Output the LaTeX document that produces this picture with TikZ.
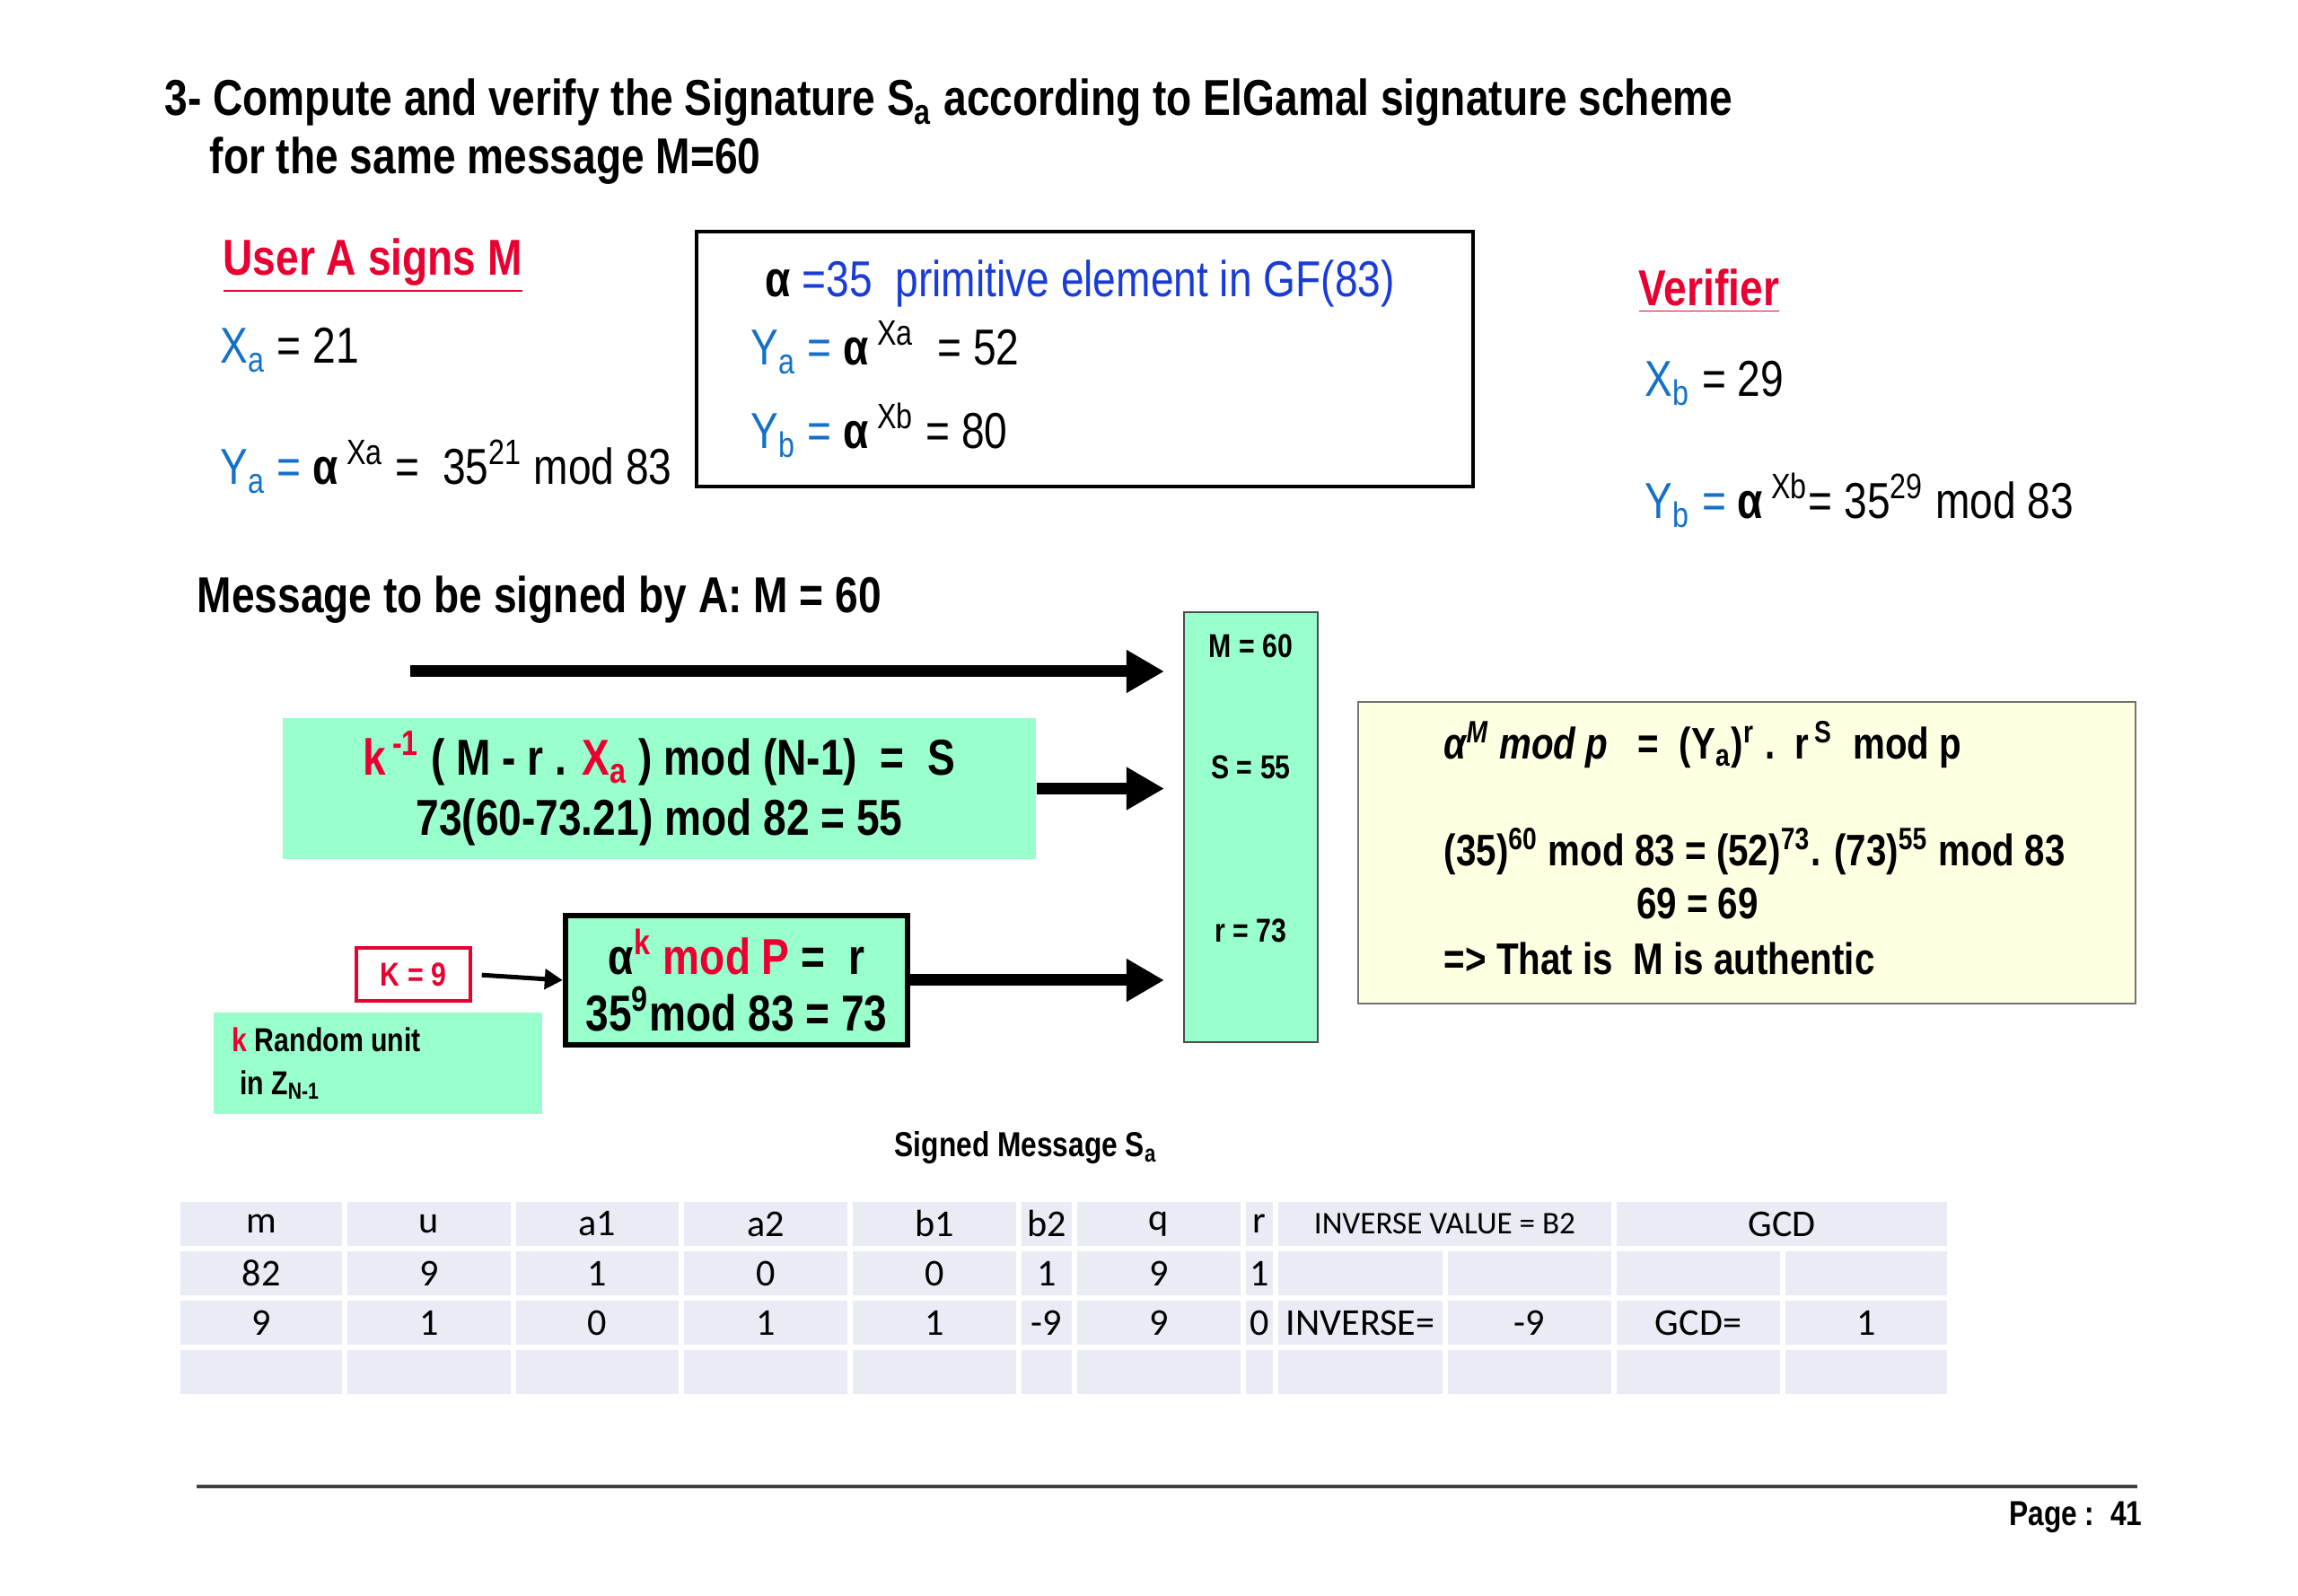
\documentclass[tikz,border=0pt]{standalone}
\usepackage{fontspec}
\setmainfont{Liberation Sans}[FakeStretch=0.82]
\newfontfamily\tablefont{Carlito}
\usetikzlibrary{positioning,arrows.meta}
\definecolor{mintfill}{RGB}{153,255,204}
\definecolor{paleyellow}{RGB}{255,255,226}
\definecolor{cellgray}{RGB}{233,235,245}
\definecolor{keyred}{RGB}{232,0,48}
\definecolor{varblue}{RGB}{20,112,200}
\definecolor{constblue}{RGB}{25,60,215}

\begin{document}
\begin{tikzpicture}[
    txt/.style={anchor=base west,inner sep=0pt},
    bigtext/.style={font=\fontsize{16}{19}\selectfont},
    bigbold/.style={font=\bfseries\fontsize{16}{19}\selectfont},
    heading/.style={font=\bfseries\fontsize{16}{19}\selectfont,text=keyred},
    smallbold/.style={font=\bfseries\fontsize{10.5}{12.5}\selectfont},
    mintbox/.style={fill=mintfill,inner sep=0pt},
    bigarrow/.style={line width=0.13cm,-{Triangle[length=0.42cm,width=0.45cm]},shorten >=0.21cm},
    cell/.style={fill=cellgray,draw=white,line width=1.5pt,inner sep=0pt,
                 minimum height=0.55cm,font=\tablefont\fontsize{12}{14}\selectfont}]
  \useasboundingbox (0,0) rectangle (25.6,17.78);

  % title
  \node[txt,bigbold] (title1) at (1.83,16.49)
    {3- Compute and verify the Signature S\textsubscript{a} according to ElGamal signature scheme};
  \node[txt,bigbold] (title2) at (2.33,15.84) {for the same message M=60};

  % user A
  \node[txt,heading] (usera) at (2.48,14.71) {\underline{User A signs M}};
  \node[txt,bigtext] (xa) at (2.45,13.73) {\textcolor{varblue}{X\textsubscript{a}} = 21};
  \node[txt,bigtext] (ya) at (2.45,12.38)
    {\textcolor{varblue}{Y\textsubscript{a} =} \textbf{α}\,\textsuperscript{Xa} =\ \ 35\textsuperscript{21} mod 83};

  % public values
  \node[draw,line width=1.3pt,minimum width=8.65cm,minimum height=2.84cm] (pubbox) at (12.085,13.78) {};
  \node[txt,bigtext] (alpha) at (8.52,14.47)
    {\textbf{α} \textcolor{constblue}{=35\ \ primitive element in GF(83)}};
  \node[txt,bigtext] (yapub) at (8.36,13.71) {\textcolor{varblue}{Y\textsubscript{a} =} \textbf{α}\,\textsuperscript{Xa}\ \ = 52};
  \node[txt,bigtext] (ybpub) at (8.36,12.78) {\textcolor{varblue}{Y\textsubscript{b} =} \textbf{α}\,\textsuperscript{Xb} = 80};

  % verifier
  \node[txt,heading] (verif) at (18.25,14.37) {\underline{Verifier}};
  \node[txt,bigtext] (xb) at (18.32,13.36) {\textcolor{varblue}{X\textsubscript{b}} = 29};
  \node[txt,bigtext] (yb) at (18.32,12.00)
    {\textcolor{varblue}{Y\textsubscript{b} =} \textbf{α}\,\textsuperscript{Xb}= 35\textsuperscript{29} mod 83};

  % signing
  \node[txt,bigbold] (msg) at (2.19,10.95) {Message to be signed by A: M = 60};

  \node[mintbox,draw=black!70,line width=0.6pt,minimum width=1.49cm,minimum height=4.79cm] (sigcol) at (13.935,8.565) {};
  \node[smallbold] (mlab) at (13.935,10.58) {M = 60};
  \node[smallbold] (slab) at (13.935,9.23) {S = 55};
  \node[smallbold] (rlab) at (13.935,7.41) {r = 73};

  \node[mintbox,bigbold,align=center,minimum width=8.39cm,minimum height=1.57cm] (sigbox) at (7.345,8.995)
    {\textcolor{keyred}{k\textsuperscript{\,-1}} ( M - r . \textcolor{keyred}{X\textsubscript{a}} ) mod (N-1)\ \ =\ \ S\\
     73(60-73.21) mod 82 = 55};

  \node[mintbox,draw,line width=1.8pt,bigbold,align=center,minimum width=3.81cm,minimum height=1.44cm] (powbox) at (8.205,6.86)
    {α\textsuperscript{\textcolor{keyred}{k}} \textcolor{keyred}{mod P} =\ \ r\\[-1pt]
     35\textsuperscript{9}mod 83 = 73};

  \node[draw=keyred,line width=1pt,fill=white,text=keyred,smallbold,minimum width=1.27cm,minimum height=0.59cm] (kbox) at (4.605,6.925) {K = 9};

  \node[mintbox,minimum width=3.66cm,minimum height=1.13cm] (randbox) at (4.21,5.935) {};
  \node[smallbold,anchor=west,align=left,inner sep=0pt] (randtxt) at (2.58,5.93)
    {\textcolor{keyred}{k} Random unit\\[1pt]\ in Z\textsubscript{N-1}};

  \coordinate (mstart) at (4.57,10.30);
  \draw[bigarrow] (mstart) -- (mstart -| sigcol.west);
  \draw[bigarrow] (sigbox.east) -- (sigbox.east -| sigcol.west);
  \draw[bigarrow] (powbox.east) -- (powbox.east -| sigcol.west);
  \draw[line width=0.05cm,-{Triangle[length=0.2cm,width=0.22cm]},shorten <=0.11cm] (kbox.east) -- (powbox.west);

  % verification
  \node[fill=paleyellow,draw=black!55,line width=0.6pt,minimum width=8.66cm,minimum height=3.36cm] (verbox) at (19.46,8.28) {};
  \node[txt,font=\bfseries\fontsize{14}{17}\selectfont] (ver1) at (16.08,9.32)
    {\textit{α\textsuperscript{M} mod p}\ \ \ =\ \ (Y\textsubscript{a})\textsuperscript{r} .\ \ r\textsuperscript{\,S}\ \ mod p};
  \node[txt,font=\bfseries\fontsize{14}{17}\selectfont] (ver2) at (16.08,8.13)
    {(35)\textsuperscript{60} mod 83 = (52)\textsuperscript{73}. (73)\textsuperscript{55} mod 83};
  \node[anchor=base,inner sep=0pt,font=\bfseries\fontsize{14}{17}\selectfont] (ver3) at (18.91,7.54) {69 = 69};
  \node[txt,font=\bfseries\fontsize{14}{17}\selectfont] (ver4) at (16.08,6.92) {=> That is\ \ M is authentic};

  % signed message table
  \node[font=\bfseries\fontsize{11}{13}\selectfont] (signedlbl) at (11.43,4.99) {Signed Message S\textsubscript{a}};

  \foreach \xa/\xb/\t [count=\i] in {1.98/3.84/m,3.84/5.72/u,5.72/7.59/a1,7.59/9.47/a2,9.47/11.35/b1,
      11.35/11.97/b2,11.97/13.85/q,13.85/14.21/r,
      14.21/17.98/{\fontsize{10}{12}\selectfont INVERSE VALUE = B2},17.98/21.72/GCD}
    \node[cell,minimum width={(\xb-\xa)*1cm}] (head\i) at ({(\xa+\xb)/2},4.145) {\t};
  \foreach \xa/\xb/\t [count=\i] in {1.98/3.84/82,3.84/5.72/9,5.72/7.59/1,7.59/9.47/0,9.47/11.35/0,
      11.35/11.97/1,11.97/13.85/9,13.85/14.21/1,14.21/16.10/{},16.10/17.98/{},17.98/19.86/{},19.86/21.72/{}}
    \node[cell,minimum width={(\xb-\xa)*1cm}] (rowa\i) at ({(\xa+\xb)/2},3.595) {\t};
  \foreach \xa/\xb/\t [count=\i] in {1.98/3.84/9,3.84/5.72/1,5.72/7.59/0,7.59/9.47/1,9.47/11.35/1,
      11.35/11.97/-9,11.97/13.85/9,13.85/14.21/0,14.21/16.10/INVERSE=,16.10/17.98/-9,17.98/19.86/GCD=,19.86/21.72/1}
    \node[cell,minimum width={(\xb-\xa)*1cm}] (rowb\i) at ({(\xa+\xb)/2},3.045) {\t};
  \foreach \xa/\xb [count=\i] in {1.98/3.84,3.84/5.72,5.72/7.59,7.59/9.47,9.47/11.35,
      11.35/11.97,11.97/13.85,13.85/14.21,14.21/16.10,16.10/17.98,17.98/19.86,19.86/21.72}
    \node[cell,minimum width={(\xb-\xa)*1cm}] (rowc\i) at ({(\xa+\xb)/2},2.495) {};

  % footer
  \draw[line width=1.2pt,black!75] (2.19,1.22) -- (23.81,1.22);
  \node[anchor=base east,inner sep=0pt,font=\bfseries\fontsize{11}{13}\selectfont] (pagenum) at (23.87,0.78) {Page :\ \ 41};
\end{tikzpicture}
\end{document}
